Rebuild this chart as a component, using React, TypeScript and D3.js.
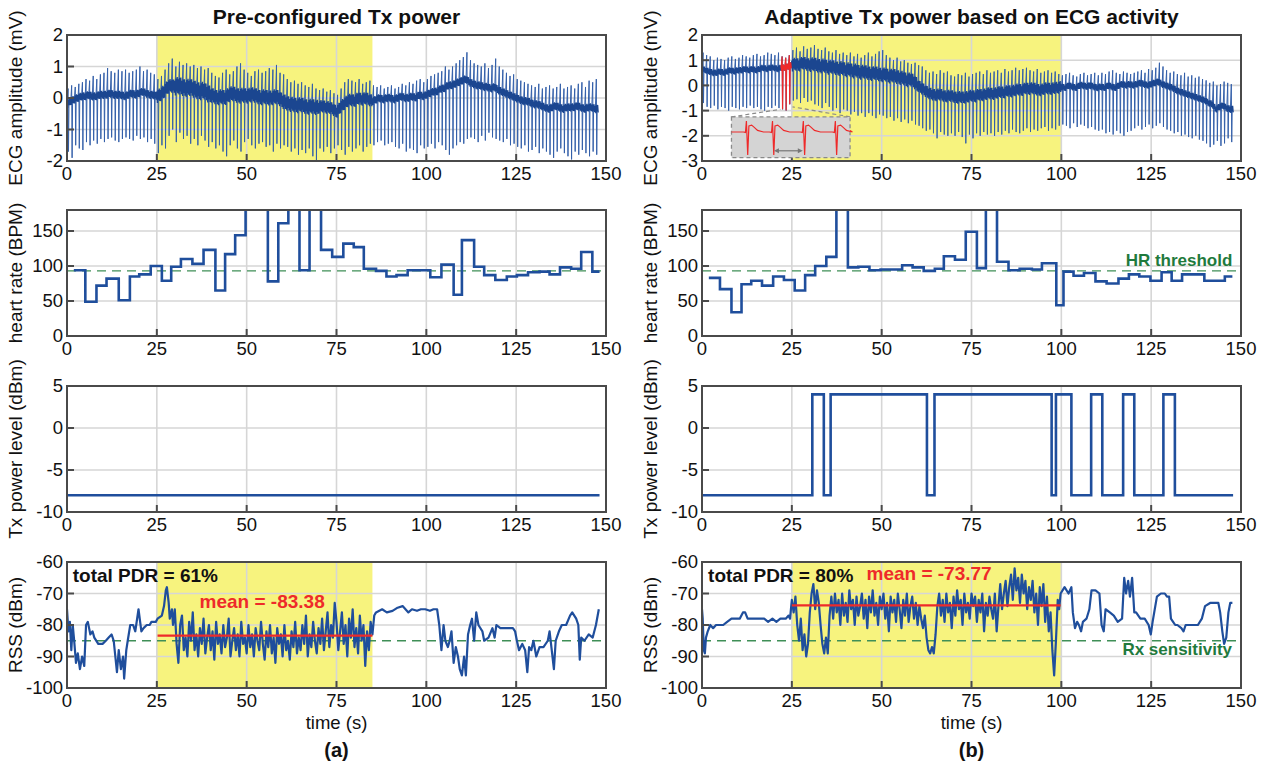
import React from 'react';
import * as d3 from 'd3';

// ---------- tick labels ----------
const xTicks = [0, 25, 50, 75, 100, 125, 150];
const ecgTicksA = [-2, -1, 0, 1, 2];
const ecgTicksB = [-3, -2, -1, 0, 1, 2];
const hrTicks = [0, 50, 100, 150];
const txTicks = [-10, -5, 0, 5];
const rssTicks = [-100, -90, -80, -70, -60];

// ---------- ECG (per second: band centre, spike top, spike bottom) ----------
const ecgBaseA = [
  -0.2, -0.1, -0.05, 0.0, 0.05, 0.05, 0.1, 0.05, 0.05, 0.1,
  0.1, 0.1, 0.15, 0.1, 0.1, 0.1, 0.05, 0.1, 0.15, 0.1,
  0.15, 0.2, 0.15, 0.1, 0.1, 0.05, 0.1, 0.2, 0.35, 0.4,
  0.35, 0.4, 0.35, 0.3, 0.35, 0.3, 0.25, 0.2, 0.25, 0.15,
  0.1, 0.05, 0.0, 0.05, 0.0, 0.1, 0.15, 0.1, 0.05, 0.1,
  0.05, 0.1, 0.1, 0.05, 0.0, 0.05, 0.0, 0.0, 0.05, 0.0,
  -0.1, -0.15, -0.2, -0.2, -0.25, -0.2, -0.25, -0.3, -0.25, -0.3,
  -0.3, -0.25, -0.3, -0.3, -0.35, -0.45, -0.3, -0.2, -0.1, -0.05,
  -0.1, 0.0, -0.05, 0.0, -0.05, -0.1, -0.05, 0.0, -0.05, 0.0,
  0.0, -0.05, 0.0, 0.05, 0.0, 0.0, 0.05, 0.0, 0.1, 0.05,
  0.1, 0.15, 0.2, 0.2, 0.3, 0.3, 0.4, 0.4, 0.45, 0.5,
  0.55, 0.6, 0.5, 0.45, 0.4, 0.4, 0.35, 0.35, 0.3, 0.35,
  0.25, 0.2, 0.15, 0.1, 0.05, 0.0, -0.05, -0.1, -0.1, -0.15,
  -0.2, -0.2, -0.25, -0.3, -0.35, -0.3, -0.25, -0.3, -0.35, -0.3,
  -0.3, -0.3, -0.25, -0.3, -0.35, -0.3, -0.3, -0.35,
];
const ecgTopA = [
  0.3, 0.4, 0.35, 0.45, 0.5, 0.6, 0.55, 0.7, 0.6, 0.75,
  0.8, 0.95, 0.85, 0.8, 0.9, 0.85, 0.9, 0.8, 0.85, 0.9,
  1.0, 0.85, 0.9, 0.8, 0.75, 0.6, 0.7, 0.9, 1.1, 1.25,
  1.0, 1.15, 1.05, 1.1, 1.0, 1.05, 0.95, 1.0, 0.9, 0.95,
  0.8, 0.7, 0.65, 0.8, 0.9, 0.75, 0.85, 1.0, 1.1, 0.9,
  0.8, 0.7, 0.85, 0.9, 0.8, 0.85, 0.95, 0.9, 1.05, 0.8,
  0.75, 0.6, 0.5, 0.55, 0.45, 0.5, 0.4, 0.35, 0.45, 0.3,
  0.25, 0.3, 0.2, 0.25, 0.15, 0.1, 0.3, 0.5, 0.6, 0.55,
  0.5, 0.6, 0.45, 0.5, 0.55, 0.4, 0.35, 0.4, 0.3, 0.35,
  0.4, 0.3, 0.35, 0.45, 0.4, 0.5, 0.45, 0.55, 0.6, 0.5,
  0.6, 0.7, 0.75, 0.8, 0.85, 1.0, 0.9, 1.0, 1.1, 1.2,
  1.3, 1.45, 1.2, 1.1, 1.05, 1.0, 1.1, 0.95, 1.05, 1.25,
  1.0, 0.9, 0.8, 0.7, 0.75, 0.6, 0.55, 0.5, 0.45, 0.4,
  0.35, 0.45, 0.3, 0.35, 0.4, 0.3, 0.35, 0.45, 0.3, 0.35,
  0.4, 0.3, 0.45, 0.5, 0.35, 0.55, 0.5, 0.6,
];
const ecgBotA = [
  -1.7, -1.9, -1.5, -1.6, -1.65, -1.4, -1.5, -1.35, -1.45, -1.3,
  -1.4, -1.3, -1.25, -1.35, -1.4, -1.3, -1.25, -1.3, -1.35, -1.2,
  -1.3, -1.25, -1.4, -1.3, -1.45, -1.75, -1.5, -1.6, -1.2, -1.0,
  -1.4, -1.1, -1.3, -1.2, -1.45, -1.3, -1.5, -1.2, -1.35, -1.55,
  -1.4, -1.6, -1.5, -1.7, -1.85, -1.5, -1.35, -1.6, -1.7, -1.4,
  -1.3, -1.5, -1.6, -1.45, -1.4, -1.55, -1.5, -1.7, -1.45, -1.6,
  -1.5, -1.55, -1.7, -1.6, -1.8, -1.65, -1.75, -1.6, -1.85, -2.0,
  -1.6, -1.7, -1.55, -1.75, -1.6, -1.5, -1.65, -1.8, -1.55, -1.7,
  -1.6, -1.5, -1.7, -1.55, -1.45, -1.5, -1.4, -1.35, -1.5, -1.45,
  -1.4, -1.55, -1.6, -1.45, -1.7, -1.6, -1.65, -1.75, -1.5, -1.6,
  -1.55, -1.45, -1.6, -1.4, -1.5, -1.65, -1.8, -1.6, -1.5, -1.4,
  -1.45, -1.3, -1.25, -1.3, -1.4, -1.2, -1.35, -1.1, -1.25, -1.3,
  -1.35, -1.4, -1.3, -1.5, -1.45, -1.55, -1.6, -1.5, -1.7, -1.65,
  -1.55, -1.75, -1.6, -1.7, -1.8, -1.9, -1.7, -1.6, -1.75, -1.85,
  -1.95, -1.7, -1.8, -1.65, -1.75, -1.85, -1.7, -1.8,
];
const ecgNoiseA = [0.13, 0.13, 0.13, 0.13, 0.13, 0.22, 0.28, 0.28, 0.24, 0.24, 0.24, 0.24, 0.24, 0.24, 0.2, 0.2, 0.2, 0.13, 0.13, 0.13, 0.13, 0.13, 0.13, 0.13, 0.13, 0.13, 0.13, 0.13, 0.13, 0.13];

const ecgBaseB = [
  0.65, 0.6, 0.55, 0.5, 0.5, 0.55, 0.5, 0.55, 0.6, 0.55,
  0.6, 0.6, 0.65, 0.6, 0.65, 0.6, 0.65, 0.7, 0.65, 0.7,
  0.7, 0.65, 0.7, 0.7, 0.75, 0.8, 0.85, 0.8, 0.9, 0.85,
  0.8, 0.85, 0.8, 0.75, 0.8, 0.7, 0.75, 0.7, 0.65, 0.7,
  0.6, 0.65, 0.55, 0.6, 0.5, 0.55, 0.5, 0.45, 0.5, 0.45,
  0.4, 0.45, 0.35, 0.4, 0.35, 0.3, 0.3, 0.2, 0.25, 0.15,
  0.0, -0.1, -0.2, -0.3, -0.35, -0.4, -0.35, -0.4, -0.45, -0.4,
  -0.45, -0.5, -0.45, -0.5, -0.45, -0.4, -0.45, -0.35, -0.4, -0.35,
  -0.3, -0.35, -0.3, -0.25, -0.3, -0.2, -0.25, -0.2, -0.15, -0.2,
  -0.1, -0.15, -0.1, -0.15, -0.2, -0.15, -0.1, -0.15, -0.1, -0.1,
  -0.05, -0.1, 0.0, -0.05, -0.1, 0.0, 0.0, -0.05, 0.0, -0.05,
  -0.1, -0.05, -0.1, 0.0, -0.05, -0.1, 0.0, 0.05, 0.0, 0.05,
  0.0, 0.05, 0.1, 0.05, 0.0, 0.05, 0.1, 0.15, 0.05, 0.0,
  -0.05, -0.1, -0.2, -0.25, -0.3, -0.35, -0.4, -0.45, -0.5, -0.55,
  -0.6, -0.7, -0.75, -0.95, -0.85, -0.8, -0.9, -0.95,
];
const ecgTopB = [
  1.3, 1.2, 1.15, 1.0, 1.1, 1.05, 1.0, 1.1, 1.15, 1.05,
  1.1, 1.2, 1.15, 1.1, 1.2, 1.25, 1.15, 1.2, 1.3, 1.25,
  1.2, 1.3, 1.15, 1.1, 1.2, 1.4, 1.5, 1.35, 1.55, 1.45,
  1.5, 1.6, 1.45, 1.4, 1.5, 1.35, 1.3, 1.4, 1.25, 1.3,
  1.2, 1.3, 1.15, 1.25, 1.1, 1.2, 1.3, 1.15, 1.25, 1.35,
  1.4, 1.2, 1.1, 1.0, 1.1, 0.95, 1.0, 0.9, 0.85, 0.9,
  0.8, 0.75, 0.6, 0.5, 0.55, 0.45, 0.6, 0.5, 0.55, 0.4,
  0.35, 0.45, 0.4, 0.5, 0.35, 0.45, 0.5, 0.55, 0.45, 0.6,
  0.5, 0.55, 0.6, 0.5, 0.65, 0.55, 0.6, 0.7, 0.6, 0.65,
  0.7, 0.6, 0.55, 0.65, 0.5, 0.55, 0.6, 0.5, 0.55, 0.45,
  0.4, 0.45, 0.5, 0.4, 0.35, 0.45, 0.5, 0.4, 0.45, 0.5,
  0.4, 0.5, 0.45, 0.55, 0.6, 0.5, 0.45, 0.55, 0.5, 0.45,
  0.5, 0.55, 0.6, 0.5, 0.65, 0.6, 0.7, 0.9, 0.75, 0.6,
  0.5, 0.55, 0.45, 0.4, 0.5, 0.35, 0.4, 0.3, 0.35, 0.25,
  0.2, 0.1, 0.15, 0.0, 0.05, 0.15, 0.1, 0.05,
];
const ecgBotB = [
  -0.7, -0.85, -0.9, -0.8, -0.95, -0.85, -0.9, -1.0, -0.85, -0.9,
  -0.95, -0.85, -0.9, -0.8, -0.9, -0.85, -0.95, -1.0, -0.85, -0.9,
  -0.8, -0.9, -0.95, -1.0, -0.75, -0.6, -0.55, -0.7, -0.5, -0.65,
  -0.6, -0.75, -0.8, -0.9, -0.7, -0.85, -1.0, -0.9, -1.1, -0.95,
  -1.0, -1.15, -1.05, -1.2, -1.1, -1.25, -1.1, -1.2, -1.3, -1.15,
  -1.2, -1.3, -1.25, -1.4, -1.3, -1.45, -1.35, -1.5, -1.4, -1.55,
  -1.6, -1.7, -1.8, -1.75, -1.9, -2.1, -1.85, -1.95, -2.0, -1.9,
  -2.0, -1.85, -2.05, -2.3, -1.95, -2.1, -1.9, -2.0, -1.85, -1.95,
  -1.9, -2.0, -1.85, -1.95, -1.8, -1.9, -1.75, -1.85, -1.9, -1.8,
  -1.7, -1.85, -1.75, -1.8, -1.7, -1.65, -1.8, -1.7, -1.75, -1.6,
  -1.55, -1.6, -1.7, -1.5, -1.65, -1.55, -1.6, -1.7, -1.65, -1.75,
  -1.8, -1.75, -1.9, -1.85, -1.95, -1.8, -1.9, -2.0, -1.85, -1.8,
  -1.7, -1.6, -1.75, -1.65, -1.55, -1.7, -1.6, -1.5, -1.65, -1.75,
  -1.8, -1.9, -1.85, -2.0, -1.95, -2.05, -2.1, -2.0, -2.15, -2.2,
  -2.3, -2.45, -2.35, -2.2, -2.4, -2.3, -2.1, -2.25,
];
const ecgNoiseB = [0.13, 0.13, 0.13, 0.13, 0.13, 0.26, 0.28, 0.28, 0.28, 0.28, 0.28, 0.28, 0.24, 0.24, 0.24, 0.24, 0.24, 0.24, 0.24, 0.24, 0.14, 0.14, 0.14, 0.14, 0.14, 0.14, 0.14, 0.14, 0.14, 0.14];
const ecgRedRangeB = [22, 25];

// inset (zoomed beats), normalised within the inset box
const insetBeats = [0.13, 0.35, 0.61, 0.88];
const insetBeatShape: [number, number][] = [
  [-0.03, 0.37], [-0.012, 0.38], [-0.004, 0.1], [0.007, 0.93], [0.017, 0.22],
  [0.04, 0.2], [0.06, 0.25], [0.09, 0.33], [0.14, 0.37],
];

// ---------- heart rate (step starts + final end, BPM) ----------
const hrTimesA = [1.9, 5.1, 8.2, 11.0, 14.4, 17.5, 20.1, 23.3, 26.4, 29.0, 31.7, 34.9, 38.0, 41.3, 44.0, 46.8, 49.7, 55.9, 58.8, 61.6, 64.7, 67.5, 70.7, 73.8, 76.9, 79.8, 82.6, 86.0, 88.9, 91.7, 94.8, 98.0, 101.1, 104.2, 107.6, 109.9, 113.3, 116.1, 119.2, 122.4, 125.2, 128.3, 131.5, 134.3, 137.2, 140.3, 143.1, 146.2, 148.2];
const hrValuesA = [94, 49, 72, 82, 51, 85, 88, 100, 79, 99, 110, 103, 123, 65, 117, 144, 200, 78, 161, 200, 94, 200, 123, 113, 132, 127, 96, 93, 85, 87, 94, 94, 84, 102, 59, 137, 99, 87, 80, 85, 87, 91, 92, 88, 98, 96, 120, 92];
const hrTimesB = [1.9, 5.0, 8.2, 11.0, 13.7, 16.7, 19.8, 22.8, 25.8, 28.7, 31.5, 34.6, 37.4, 40.6, 43.5, 46.6, 49.7, 52.8, 55.7, 58.6, 61.7, 64.8, 67.3, 70.4, 73.4, 76.5, 79.0, 82.1, 85.3, 88.4, 91.8, 94.6, 98.6, 100.6, 103.4, 106.3, 109.5, 112.6, 115.9, 118.8, 121.7, 124.8, 127.9, 130.7, 133.6, 136.8, 139.8, 142.7, 145.5, 147.6];
const hrValuesB = [83, 67, 34, 74, 79, 72, 85, 80, 65, 87, 100, 113, 200, 98, 99, 94, 95, 95, 101, 98, 93, 96, 114, 109, 149, 97, 200, 106, 94, 96, 95, 104, 44, 92, 86, 90, 78, 75, 82, 88, 85, 79, 91, 79, 88, 88, 79, 79, 85];
const hrThreshold = 93;

// ---------- Tx power (step starts + final end, dBm) ----------
const txTimesA = [0, 148.2];
const txValuesA = [-8];
const txTimesB = [0, 30.7, 33.9, 35.8, 62.6, 64.7, 97.3, 98.5, 102.8, 108.3, 111.4, 117.2, 120.3, 128.4, 131.6, 147.8];
const txValuesB = [-8, 4, -8, 4, -8, 4, -8, 4, -8, 4, -8, 4, -8, 4, -8];

// ---------- RSS (dBm) ----------
const rssPreA: [number, number][] = [
  [0, -75], [0.4, -82], [0.8, -79], [1.2, -88], [1.6, -80], [2, -85], [2.5, -92], [3, -89], [3.6, -94], [4.2, -90],
  [4.8, -93], [5.3, -80], [5.8, -79], [6.5, -83], [7.1, -82], [7.6, -84], [8.7, -86], [9.9, -86], [10.8, -85], [11.6, -84],
  [12.4, -83], [13, -85], [13.9, -95], [14.4, -88], [15, -94], [15.6, -90], [15.9, -97], [16.5, -88], [16.9, -85], [17.6, -80],
  [18.4, -80], [19, -82], [19.9, -75], [20.7, -82], [21.3, -81], [22.2, -80], [23, -80], [23.5, -79], [24.7, -79], [25.2, -78],
  [26.4, -77], [27, -74], [27.5, -69], [27.8, -68], [28.3, -73], [28.6, -78], [29.2, -75],
];
const rssNoisyStartA = 29.5;
const rssNoisyA = [
  -80, -75, -86, -92, -80, -77, -88, -84, -90, -79,
  -85, -76, -88, -83, -90, -81, -86, -78, -89, -84,
  -80, -88, -82, -91, -79, -86, -83, -89, -80, -87,
  -84, -78, -90, -85, -81, -88, -83, -90, -79, -86,
  -84, -89, -80, -87, -83, -90, -81, -85, -88, -79,
  -86, -91, -82, -87, -80, -89, -84, -92, -81, -86,
  -83, -90, -80, -88, -85, -91, -82, -87, -79, -89,
  -84, -88, -80, -86, -77, -90, -83, -87, -79, -85,
  -89, -81, -86, -78, -88, -82, -76, -87, -80, -84,
  -73, -79, -88, -82, -76, -86, -80, -90, -78, -84,
  -75, -87, -81, -89, -77, -85, -80, -93, -82, -88,
  -79, -83,
];
const rssPostA: [number, number][] = [
  [85.5, -77], [86, -76], [87.7, -75], [89, -76], [90.6, -75.5], [92, -74.5], [93.4, -74], [95, -76], [96, -75], [97.4, -75.5],
  [98.5, -75], [99.7, -75], [101, -75.5], [102, -75], [103, -75], [103.6, -80], [104.2, -88], [104.8, -80], [105.3, -85], [106, -87],
  [106.5, -85], [107, -82], [107.6, -92], [108.2, -87], [108.8, -90], [109.3, -94], [109.9, -96], [110.5, -90], [111, -96], [111.6, -83],
  [112.2, -80], [112.7, -78], [113.3, -85], [113.9, -76], [114.5, -80], [115.6, -82], [116.1, -85], [117.3, -84], [118.4, -81], [119, -84],
  [119.5, -80], [120.6, -81], [121.8, -81], [122.9, -81], [124.1, -81], [124.7, -82], [125.2, -85], [125.8, -88], [126.7, -86], [127.5, -88],
  [128.1, -95], [128.6, -87], [129.2, -88], [129.8, -85], [130.6, -90], [131.5, -87], [132.6, -87], [133.8, -85], [134.3, -82], [134.9, -88],
  [135.5, -94], [136, -85], [136.9, -82], [137.7, -80], [138.9, -80], [140, -77], [140.6, -76], [141.7, -78], [142.3, -80], [142.7, -91],
  [143.1, -84], [144, -85], [145.2, -83], [146.3, -84], [147.2, -80], [148, -75],
];
const rssPreB: [number, number][] = [
  [0, -75], [0.2, -78], [0.5, -88], [0.8, -89], [1.1, -84], [1.6, -82], [2.3, -80], [3.1, -81], [3.9, -80], [4.8, -80],
  [5.9, -80], [7, -79], [8.2, -78], [9.3, -78], [10.5, -78], [11.4, -76], [12, -76], [12.7, -78], [13.9, -78], [15.6, -78],
  [17.3, -78], [18.4, -79], [19.6, -78], [20.7, -79], [21.8, -78], [23.3, -78], [24.1, -77],
];
const rssNoisyStartB = 24.5;
const rssNoisyB = [
  -78, -72, -76, -71, -80, -85, -78, -88, -83, -90,
  -86, -76, -70, -67, -75, -69, -73, -80, -86, -89,
  -84, -89, -77, -71, -78, -70, -76, -72, -80, -70,
  -77, -73, -79, -69, -75, -72, -80, -71, -77, -74,
  -70, -78, -72, -81, -71, -76, -69, -77, -73, -80,
  -71, -75, -70, -78, -73, -82, -71, -76, -72, -79,
  -70, -75, -81, -72, -77, -70, -79, -74, -71, -78,
  -73, -80, -74, -78, -81, -77, -84, -88, -89, -87,
  -89, -83, -74, -70, -77, -72, -79, -70, -76, -73,
  -81, -71, -77, -69, -75, -72, -80, -70, -76, -73,
  -78, -70, -74, -71, -79, -72, -76, -70, -82, -73,
  -77, -71, -75, -78, -70, -82, -74, -67, -75, -70,
  -66, -74, -68, -64, -72, -62, -69, -65, -73, -64,
  -70, -66, -75, -68, -72, -66, -76, -70, -80, -68,
  -74, -67, -79, -71, -82, -76, -88, -96, -85, -72,
];
const rssPostB: [number, number][] = [
  [99.4, -75], [99.8, -70], [100.9, -68], [102, -70], [102.8, -68], [103.2, -76], [103.8, -81], [104.4, -79], [104.9, -80], [105.5, -82],
  [106, -79], [107, -78], [107.8, -75], [108.4, -69], [109.5, -69], [110.6, -70], [111.2, -80], [111.8, -82], [112.3, -75], [113.5, -76],
  [114.6, -77], [115.7, -79], [116.9, -78], [117.5, -65], [118, -70], [118.6, -66], [119.1, -71], [119.7, -65], [120.3, -76], [120.8, -76],
  [122, -78], [123.2, -78], [124.3, -80], [124.9, -83], [125.4, -79], [126.6, -71], [127.7, -70], [128.8, -70], [129.4, -71], [130, -71],
  [130.5, -78], [131.1, -79], [131.7, -80], [132.3, -80], [133.4, -81], [134, -82], [134.6, -80], [135.7, -80], [136.9, -80], [138, -80],
  [139.1, -78], [140, -74], [141.4, -73], [142.5, -73], [143.7, -73], [144.2, -76], [144.8, -82], [145.3, -86], [145.9, -84], [146.5, -76],
  [147, -73], [147.6, -73],
];
const rxSensitivity = -85;
const meanA = -83.38;
const meanB = -73.77;
const meanSpanA = [25.2, 85];
const meanSpanB = [25, 99.8];
const highlightA = [25, 85];
const highlightB = [25, 100];

// ---------- layout / style ----------
const COLX = [67, 702];
const PW = 539;
const ROWY = [35, 210, 386, 562];
const PH = 126;
const FONT = '"Liberation Sans", Arial, Helvetica, sans-serif';
const BLUE = '#1f4e9c';
const ECG_BAND = '#1b4690';
const ECG_SPIKE = '#3460aa';
const YELLOW = '#f7f37e';
const GRID = '#d6d6d6';
const AXIS = '#4a4a4a';
const GREEN = '#3f8f57';
const GREEN_TXT = '#1f7a3d';
const RED = '#ee2a2a';

// relative sub-second positions of the noise zig-zag drawn around the band centre
const zigzag: [number, number][] = [[0.0, 0.7], [0.17, -1], [0.33, 0.9], [0.5, -0.6], [0.67, 1], [0.83, -0.85]];

type Sc = d3.ScaleLinear<number, number>;

function stepPath(times: number[], values: number[], x: Sc, y: Sc) {
  const pts: [number, number][] = values.map((v, i) => [x(times[i]), y(v)]);
  pts.push([x(times[times.length - 1]), y(values[values.length - 1])]);
  return d3.line().curve(d3.curveStepAfter)(pts) ?? '';
}

function rssPoints(pre: [number, number][], start: number, noisy: number[], post: [number, number][]) {
  const mid: [number, number][] = noisy.map((v, i) => [start + i * 0.5, v]);
  return [...pre, ...mid, ...post];
}

function ecgLine(base: number[], top: number[], bot: number[], x: Sc, y: Sc, from: number, to: number) {
  const pts: [number, number][] = [];
  for (let i = from; i < to; i++) {
    pts.push([x(i + 0.05), y(base[i])]);
    pts.push([x(i + 0.3), y(top[i])]);
    pts.push([x(i + 0.42), y(bot[i])]);
    pts.push([x(i + 0.55), y(base[i])]);
  }
  return d3.line()(pts) ?? '';
}

function ecgBand(base: number[], noise: number[], x: Sc, y: Sc, from: number, to: number) {
  const pts: [number, number][] = [];
  for (let i = from; i < to; i++) {
    const n = noise[Math.floor(i / 5)];
    const b0 = base[i];
    const b1 = i + 1 < base.length ? base[i + 1] : base[i];
    zigzag.forEach(([f, k]) => pts.push([x(i + f), y(b0 + (b1 - b0) * f + k * n)]));
  }
  return d3.line()(pts) ?? '';
}

type PanelProps = {
  col: number; row: number; yDomain: [number, number]; yTicks: number[]; yLabel: string;
  highlight?: number[]; id: string; draw: (x: Sc, y: Sc) => React.ReactNode; over?: (x: Sc, y: Sc) => React.ReactNode;
};

function Panel({ col, row, yDomain, yTicks, yLabel, highlight, id, draw, over }: PanelProps) {
  const x0 = COLX[col];
  const y0 = ROWY[row];
  const x = d3.scaleLinear().domain([0, 150]).range([x0, x0 + PW]);
  const y = d3.scaleLinear().domain(yDomain).range([y0 + PH, y0]);
  const innerX = xTicks.filter(t => t > 0 && t < 150);
  const innerY = yTicks.filter(t => t > yDomain[0] && t < yDomain[1]);
  return (
    <g>
      <defs>
        <clipPath id={id}><rect x={x0} y={y0} width={PW} height={PH} /></clipPath>
      </defs>
      <rect x={x0} y={y0} width={PW} height={PH} fill="#fff" />
      {highlight && (
        <rect x={x(highlight[0])} y={y0} width={x(highlight[1]) - x(highlight[0])} height={PH} fill={YELLOW} />
      )}
      {innerX.map(t => <line key={'gx' + t} x1={x(t)} x2={x(t)} y1={y0} y2={y0 + PH} stroke={GRID} strokeWidth={1.6} />)}
      {innerY.map(t => <line key={'gy' + t} x1={x0} x2={x0 + PW} y1={y(t)} y2={y(t)} stroke={GRID} strokeWidth={1.6} />)}
      <g clipPath={`url(#${id})`}>{draw(x, y)}</g>
      {xTicks.map(t => <line key={'tx' + t} x1={x(t)} x2={x(t)} y1={y0 + PH} y2={y0 + PH - 7} stroke={AXIS} strokeWidth={2} />)}
      {yTicks.map(t => <line key={'ty' + t} x1={x0} x2={x0 + 7} y1={y(t)} y2={y(t)} stroke={AXIS} strokeWidth={2} />)}
      <rect x={x0} y={y0} width={PW} height={PH} fill="none" stroke={AXIS} strokeWidth={2} />
      {over && over(x, y)}
      {xTicks.map(t => (
        <text key={'lx' + t} x={x(t)} y={y0 + PH + 19} textAnchor="middle" fontSize={18.5} fill="#111">{t}</text>
      ))}
      {yTicks.map(t => (
        <text key={'ly' + t} x={x0 - 4} y={y(t)} dy="0.35em" textAnchor="end" fontSize={18.5} fill="#111">{t}</text>
      ))}
      <text transform={`translate(${x0 - 45},${y0 + PH / 2}) rotate(-90)`} textAnchor="middle" fontSize={19} fill="#111">{yLabel}</text>
    </g>
  );
}

export default function App() {
  const rssA = rssPoints(rssPreA, rssNoisyStartA, rssNoisyA, rssPostA);
  const rssB = rssPoints(rssPreB, rssNoisyStartB, rssNoisyB, rssPostB);
  const lineGen = (x: Sc, y: Sc) => d3.line<[number, number]>().x(d => x(d[0])).y(d => y(d[1]));
  const n = ecgBaseA.length;
  const nB = ecgBaseB.length;

  return (
    <svg width={1271} height={762} style={{ position: 'absolute', left: 0, top: 0, display: 'block' }} fontFamily={FONT}>
      <rect width={1271} height={762} fill="#fff" />
      <text x={COLX[0] + PW / 2} y={24} textAnchor="middle" fontSize={21} fontWeight="bold" fill="#111">Pre-configured Tx power</text>
      <text x={COLX[1] + PW / 2} y={24} textAnchor="middle" fontSize={21} fontWeight="bold" fill="#111">Adaptive Tx power based on ECG activity</text>

      {/* Row 1: ECG */}
      <Panel col={0} row={0} id="c00" yDomain={[-2, 2]} yTicks={ecgTicksA} yLabel="ECG amplitude (mV)" highlight={highlightA}
        draw={(x, y) => (
          <g>
            <path d={ecgLine(ecgBaseA, ecgTopA, ecgBotA, x, y, 0, n)} fill="none" stroke={ECG_SPIKE} strokeWidth={1} />
            <path d={ecgBand(ecgBaseA, ecgNoiseA, x, y, 0, n)} fill="none" stroke={ECG_BAND} strokeWidth={1.3} />
          </g>
        )} />
      <Panel col={1} row={0} id="c01" yDomain={[-3, 2]} yTicks={ecgTicksB} yLabel="ECG amplitude (mV)" highlight={highlightB}
        draw={(x, y) => (
          <g>
            <path d={ecgLine(ecgBaseB, ecgTopB, ecgBotB, x, y, 0, nB)} fill="none" stroke={ECG_SPIKE} strokeWidth={1} />
            <path d={ecgBand(ecgBaseB, ecgNoiseB, x, y, 0, nB)} fill="none" stroke={ECG_BAND} strokeWidth={1.3} />
            <path d={ecgLine(ecgBaseB, ecgTopB, ecgBotB, x, y, ecgRedRangeB[0], ecgRedRangeB[1])} fill="none" stroke={RED} strokeWidth={1.2} />
            <path d={ecgBand(ecgBaseB, ecgNoiseB, x, y, ecgRedRangeB[0], ecgRedRangeB[1])} fill="none" stroke={RED} strokeWidth={1.3} />
          </g>
        )}
        over={(x, y) => {
          const bx0 = x(8.2), bx1 = x(41.2), by0 = y(-1.25), by1 = y(-2.87);
          const u = d3.scaleLinear().domain([0, 1]).range([bx0, bx1]);
          const w = d3.scaleLinear().domain([0, 1]).range([by0, by1]);
          const pts: [number, number][] = [[0, 0.37]];
          insetBeats.forEach(b => insetBeatShape.forEach(([du, v]) => pts.push([b + du, v])));
          pts.push([1, 0.33]);
          const d = d3.line<[number, number]>().x(p => u(p[0])).y(p => w(p[1]))(pts) ?? '';
          const ay = w(0.83);
          return (
            <g>
              <line x1={bx0} y1={by0} x2={x(21.8)} y2={y(-0.95)} stroke="#8a8a8a" strokeWidth={1.2} strokeDasharray="4,3" />
              <line x1={bx1} y1={by0} x2={x(25.2)} y2={y(-0.85)} stroke="#8a8a8a" strokeWidth={1.2} strokeDasharray="4,3" />
              <rect x={bx0} y={by0} width={bx1 - bx0} height={by1 - by0} fill="#d4d4d4" stroke="#8a8a8a" strokeWidth={1.3} strokeDasharray="4,3" />
              <path d={d} fill="none" stroke={RED} strokeWidth={1.2} />
              <line x1={u(0.35) + 3} x2={u(0.61) - 3} y1={ay} y2={ay} stroke="#777" strokeWidth={1.2} />
              <path d={`M${u(0.35) + 1},${ay} l5,-2.5 l0,5 z`} fill="#777" />
              <path d={`M${u(0.61) - 1},${ay} l-5,-2.5 l0,5 z`} fill="#777" />
            </g>
          );
        }} />

      {/* Row 2: heart rate */}
      <Panel col={0} row={1} id="c10" yDomain={[0, 180]} yTicks={hrTicks} yLabel="heart rate (BPM)"
        draw={(x, y) => (
          <g>
            <line x1={x(0)} x2={x(150)} y1={y(hrThreshold)} y2={y(hrThreshold)} stroke={GREEN} strokeWidth={1.3} strokeDasharray="9,6" />
            <path d={stepPath(hrTimesA, hrValuesA, x, y)} fill="none" stroke={BLUE} strokeWidth={2.6} />
          </g>
        )} />
      <Panel col={1} row={1} id="c11" yDomain={[0, 180]} yTicks={hrTicks} yLabel="heart rate (BPM)"
        draw={(x, y) => (
          <g>
            <line x1={x(0)} x2={x(150)} y1={y(hrThreshold)} y2={y(hrThreshold)} stroke={GREEN} strokeWidth={1.3} strokeDasharray="9,6" />
            <path d={stepPath(hrTimesB, hrValuesB, x, y)} fill="none" stroke={BLUE} strokeWidth={2.6} />
            <text x={x(147.6)} y={y(100.5)} textAnchor="end" fontSize={17} fontWeight="bold" fill={GREEN_TXT}>HR threshold</text>
          </g>
        )} />

      {/* Row 3: Tx power */}
      <Panel col={0} row={2} id="c20" yDomain={[-10, 5]} yTicks={txTicks} yLabel="Tx power level (dBm)"
        draw={(x, y) => <path d={stepPath(txTimesA, txValuesA, x, y)} fill="none" stroke={BLUE} strokeWidth={2.6} />} />
      <Panel col={1} row={2} id="c21" yDomain={[-10, 5]} yTicks={txTicks} yLabel="Tx power level (dBm)"
        draw={(x, y) => <path d={stepPath(txTimesB, txValuesB, x, y)} fill="none" stroke={BLUE} strokeWidth={2.6} />} />

      {/* Row 4: RSS */}
      <Panel col={0} row={3} id="c30" yDomain={[-100, -60]} yTicks={rssTicks} yLabel="RSS (dBm)" highlight={highlightA}
        draw={(x, y) => (
          <g>
            <line x1={x(0)} x2={x(150)} y1={y(rxSensitivity)} y2={y(rxSensitivity)} stroke={GREEN} strokeWidth={1.3} strokeDasharray="9,6" />
            <path d={lineGen(x, y)(rssA) ?? ''} fill="none" stroke={BLUE} strokeWidth={2.2} strokeLinejoin="round" />
            <line x1={x(meanSpanA[0])} x2={x(meanSpanA[1])} y1={y(meanA)} y2={y(meanA)} stroke={RED} strokeWidth={2.2} />
            <text x={x(54.3)} y={y(-74.6)} textAnchor="middle" fontSize={19} fontWeight="bold" fill={RED}>mean = {meanA}</text>
            <text x={x(1.6)} y={y(-66.3)} fontSize={19} fontWeight="bold" fill="#111">total PDR = 61%</text>
          </g>
        )} />
      <Panel col={1} row={3} id="c31" yDomain={[-100, -60]} yTicks={rssTicks} yLabel="RSS (dBm)" highlight={highlightB}
        draw={(x, y) => (
          <g>
            <line x1={x(0)} x2={x(150)} y1={y(rxSensitivity)} y2={y(rxSensitivity)} stroke={GREEN} strokeWidth={1.3} strokeDasharray="9,6" />
            <path d={lineGen(x, y)(rssB) ?? ''} fill="none" stroke={BLUE} strokeWidth={2.2} strokeLinejoin="round" />
            <line x1={x(meanSpanB[0])} x2={x(meanSpanB[1])} y1={y(meanB)} y2={y(meanB)} stroke={RED} strokeWidth={2.2} />
            <text x={x(63.2)} y={y(-65.7)} textAnchor="middle" fontSize={19} fontWeight="bold" fill={RED}>mean = {meanB}</text>
            <text x={x(1.7)} y={y(-66.3)} fontSize={19} fontWeight="bold" fill="#111">total PDR = 80%</text>
            <text x={x(147.5)} y={y(-89.5)} textAnchor="end" fontSize={17} fontWeight="bold" fill={GREEN_TXT}>Rx sensitivity</text>
          </g>
        )} />

      <text x={COLX[0] + PW / 2} y={729} textAnchor="middle" fontSize={18.5} fill="#111">time (s)</text>
      <text x={COLX[1] + PW / 2} y={729} textAnchor="middle" fontSize={18.5} fill="#111">time (s)</text>
      <text x={COLX[0] + PW / 2} y={757} textAnchor="middle" fontSize={20} fontWeight="bold" fill="#111">(a)</text>
      <text x={COLX[1] + PW / 2} y={757} textAnchor="middle" fontSize={20} fontWeight="bold" fill="#111">(b)</text>
    </svg>
  );
}
